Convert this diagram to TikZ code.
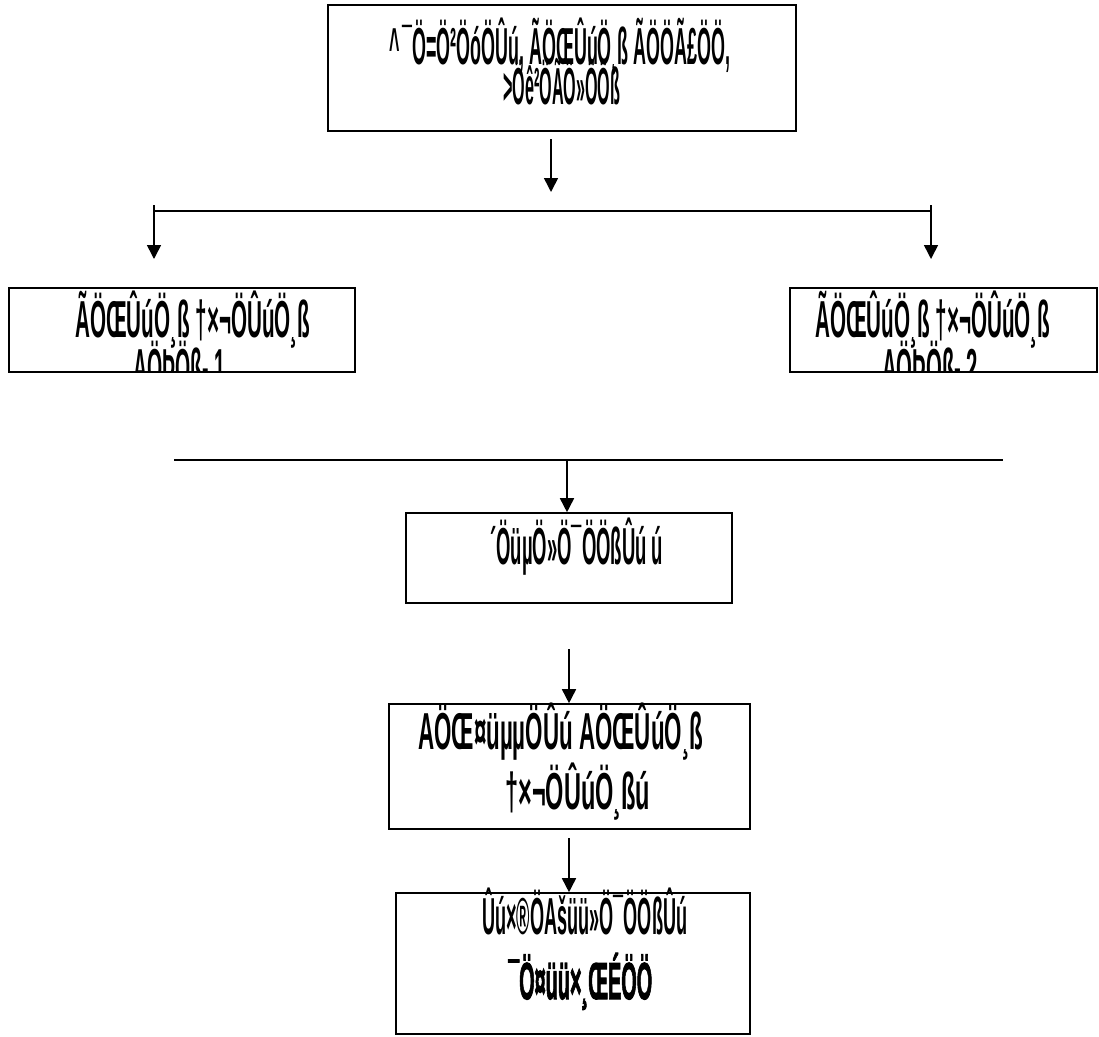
\documentclass[tikz,border=0pt]{standalone}
\usepackage{fontspec}
\setmainfont{Liberation Sans}
\newfontfamily\heavyfont{Liberation Sans}[FakeBold=2.5]
\usetikzlibrary{arrows.meta}
\newsavebox\lnbox
\newlength\lnlen
\newcommand\fitln[2]{\sbox\lnbox{#2}\setlength\lnlen{\wd\lnbox}\pgfmathsetmacro\lnratio{#1/\lnlen}\scalebox{\lnratio}[1]{\usebox\lnbox}}
\tikzset{
  box/.style={draw, line width=1.6pt, inner sep=0pt},
  txt/.style={anchor=base west, inner sep=0pt, font=\fontsize{52}{52}\selectfont\bfseries},
  btxt/.style={anchor=base west, inner sep=0pt, font=\fontsize{52}{52}\heavyfont\bfseries},
  arr/.style={line width=1.6pt, -{Triangle[length=14pt,width=14pt]}},
  ln/.style={line width=1.6pt},
}
\begin{document}
\begin{tikzpicture}[x=1pt,y=-1pt]
\useasboundingbox (0,0) rectangle (1099,1036);
% boxes
\node[box, minimum width=468pt, minimum height=126pt] (top) at (562,68) {};
\node[box, minimum width=346pt, minimum height=84pt] (left) at (182,330) {};
\node[box, minimum width=307pt, minimum height=84pt] (right) at (943.5,330) {};
\node[box, minimum width=326pt, minimum height=90pt] (mid) at (569,558) {};
\node[box, minimum width=361pt, minimum height=125pt] (four) at (569.5,766.5) {};
\node[box, minimum width=354pt, minimum height=141pt] (five) at (573,963.5) {};
% texts
\node[txt] (t1) at (389,64) {\fitln{341pt}{\textasciicircum\,¯Ö=Ö²ÖóÖÛú, ÃÖŒÛúÖ¸ß ÃÖÖÃ£ÖÖ,}};
\node[txt] (t2) at (503,104) {\fitln{117pt}{>Öê²ÖÃÖ»ÖÖß}};
\begin{scope}
\clip (9,288) rectangle (355,372);
\node[txt] (l1) at (75,337) {\fitln{235pt}{ÃÖŒÛúÖ¸ß †×¬ÖÛúÖ¸ß}};
\node[txt] (l2) at (133,385) {\fitln{92pt}{AÖÞÖß- 1}};
\end{scope}
\begin{scope}
\clip (790,288) rectangle (1097,372);
\node[txt] (r1) at (815,337) {\fitln{235pt}{ÃÖŒÛúÖ¸ß †×¬ÖÛúÖ¸ß}};
\node[txt] (r2) at (882,385) {\fitln{96pt}{AÖÞÖß- 2}};
\end{scope}
\node[txt] (m1) at (490,564) {\fitln{173pt}{´ÖüµÖ»Ö¯ÖÖßÛú ú}};
\node[txt] (f1) at (418,749) {\fitln{285pt}{AÖŒ¤üµµÖÛú AÖŒÛúÖ¸ß}};
\node[txt] (f2) at (505,809) {\fitln{145pt}{†×¬ÖÛúÖ¸ßú}};
\node[txt] (g1) at (482,934) {\fitln{205pt}{Ûú×®ÖAšüü»Ö¯ÖÖßÛú}};
\node[btxt] (g2) at (508,999) {\fitln{144pt}{¯Ö¤üü×¸ŒÉÖÖ}};
% connectors
\coordinate (a1s) at (551,139);
\coordinate (a1e) at (551,192);
\coordinate (bl) at (154,211);
\coordinate (br) at (931,211);
\coordinate (blt) at (154,205);
\coordinate (brt) at (931,205);
\coordinate (ble) at (154,259);
\coordinate (bre) at (931,259);
\coordinate (hl) at (174,460);
\coordinate (hr) at (1003,460);
\coordinate (hm) at (567,460);
\coordinate (a4s) at (569,649);
\coordinate (a5s) at (569,838);
\draw[arr] (a1s) -- (a1e);
\draw[ln] (bl) -- (br);
\draw[arr] (blt) -- (ble);
\draw[arr] (brt) -- (bre);
\draw[ln] (hl) -- (hr);
\draw[arr] (hm) -- (hm |- mid.north);
\draw[arr] (a4s) -- (a4s |- four.north);
\draw[arr] (a5s) -- (a5s |- five.north);
\end{tikzpicture}
\end{document}
